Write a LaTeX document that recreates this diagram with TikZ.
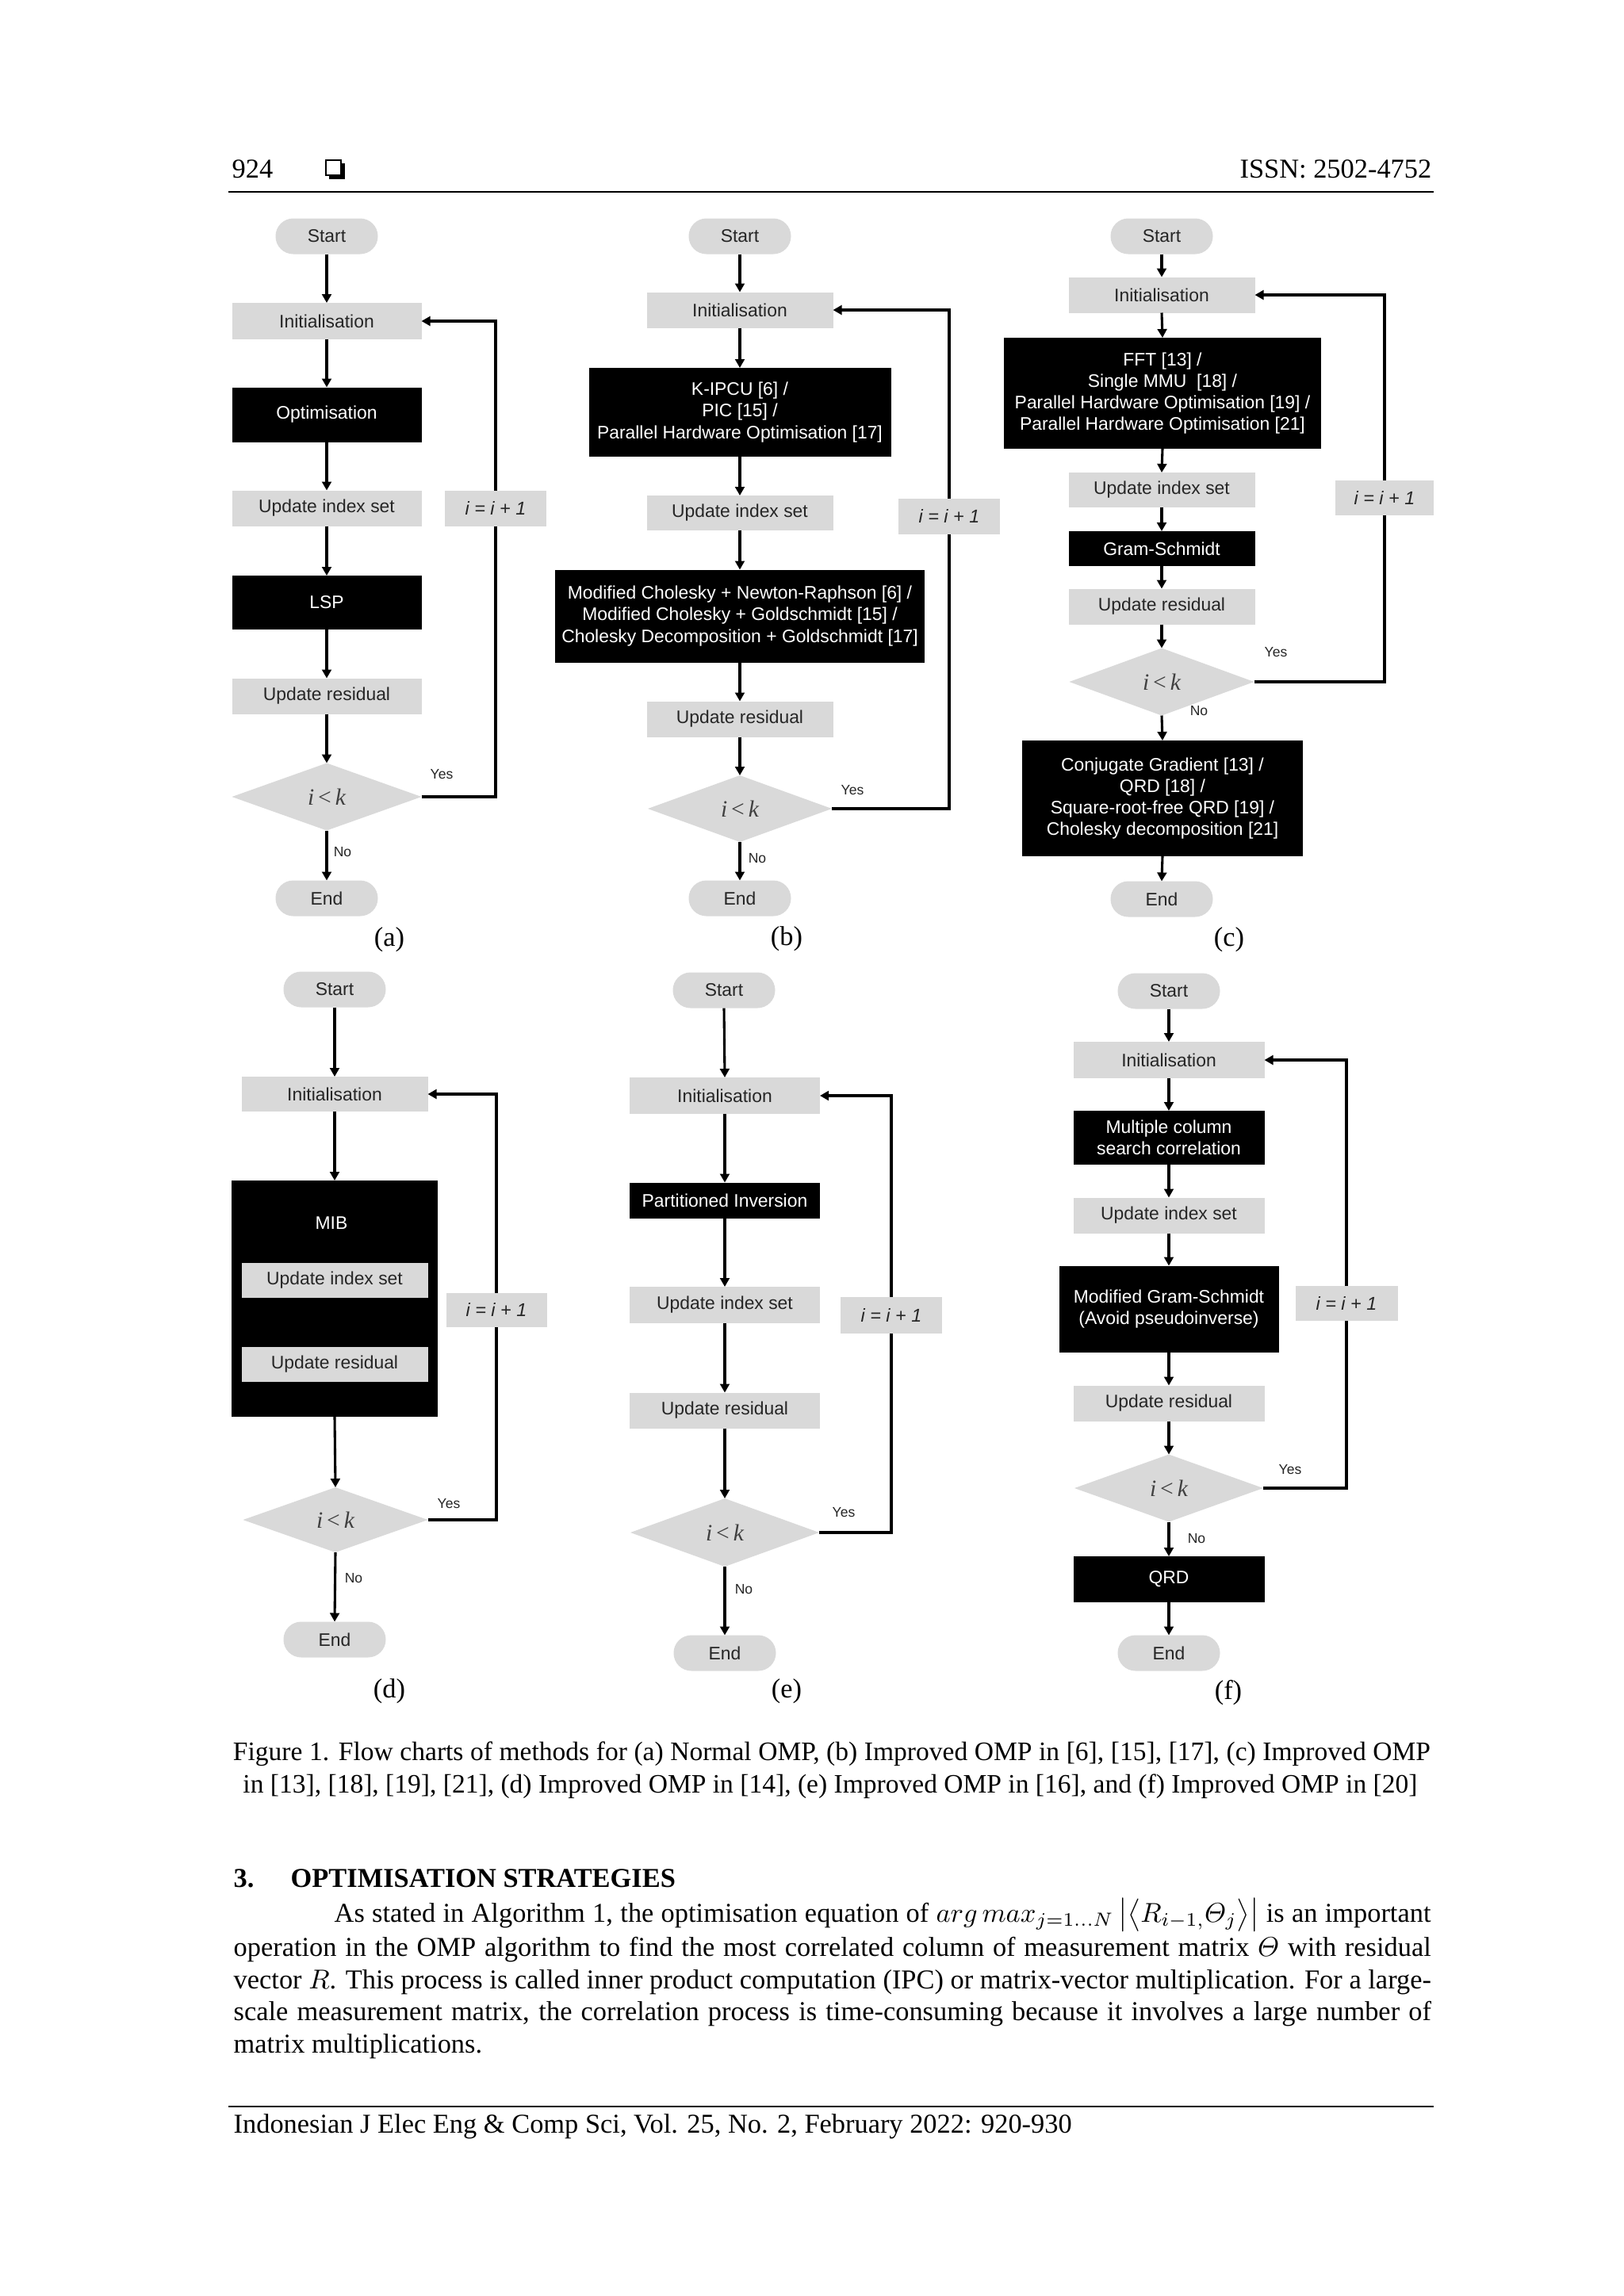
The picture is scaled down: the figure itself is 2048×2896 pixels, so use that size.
\documentclass[tikz,border=0pt]{standalone}
\usepackage{amsmath}
\usepackage{fontspec}
\setmainfont{Liberation Serif}
\newfontfamily\arialf{Liberation Sans}
\usetikzlibrary{arrows.meta,shapes.geometric}
\definecolor{boxgray}{HTML}{D9D9D9}
\definecolor{txtgray}{HTML}{262626}
\definecolor{dgray}{HTML}{404040}
\tikzset{
  sz/.style 2 args={minimum width=#1*0.2907pt, minimum height=#2*0.2907pt},
  basebox/.style={inner sep=0pt, outer sep=0pt, font=\arialf\fontsize{6.65}{7.9}\selectfont, align=center},
  gbox/.style={basebox, rectangle, fill=boxgray, text=txtgray},
  kbox/.style={basebox, rectangle, fill=black, text=white},
  term/.style={basebox, rectangle, rounded corners=6.5pt, fill=boxgray, text=txtgray, sz={129}{45}},
  decis/.style={basebox, diamond, fill=boxgray, text=dgray, font=\fontsize{8.6}{9}\selectfont},
  incbox/.style={gbox, sz={128}{45}, text=txtgray, font=\arialf\fontsize{6.8}{8}\selectfont\itshape},
  yn/.style={font=\arialf\fontsize{5.1}{6}\selectfont, text=txtgray, inner sep=0pt},
  arr/.style={line width=0.9pt, -{Triangle[length=3.2pt,width=3.4pt]}},
  fb/.style={line width=0.9pt},
  txtten/.style={font=\fontsize{10}{12}\selectfont, inner sep=0pt},
  captxt/.style={font=\fontsize{9.75}{12}\selectfont, inner sep=0pt},
}
\newcommand\ilk{{\itshape i}\,<\,{\itshape k}}
\newcommand\iinc{i = i + 1}
\begin{document}
\begin{tikzpicture}[x=0.2907pt, y=-0.2907pt]
\fill[white] (0,0) rectangle (2048,2896);
\useasboundingbox (0,0) rectangle (2048,2896);

% ---------- header ----------
\node[txtten, anchor=base west] (pgno) at (292,224) {924};
\fill[black] (415,206) rectangle (435,226);
\filldraw[fill=white, draw=black, line width=0.6pt] (411,202) rectangle (430,221);
\node[txtten, anchor=base east] (issn) at (1806,224) {ISSN: 2502-4752};
\draw[line width=0.75pt] (288,242) -- (1808,242);

% ---------- (a) ----------
\node[term] (a0) at (412,298) {Start};
\node[gbox, sz={239}{46}] (a1) at (412,405) {Initialisation};
\node[kbox, sz={239}{69}] (a2) at (412,523) {Optimisation};
\node[gbox, sz={239}{45}] (a3) at (412,641) {Update index set};
\node[kbox, sz={239}{68}] (a4) at (412,760) {LSP};
\node[gbox, sz={239}{45}] (a5) at (412,878) {Update residual};
\node[decis, sz={239}{85}] (a6) at (412,1005) {\ilk};
\node[term] (a7) at (412,1133) {End};
\node[incbox] (a8) at (625,641) {\iinc};
\draw[arr] (a0.south) -- (a1.north);
\draw[arr] (a1.south) -- (a2.north);
\draw[arr] (a2.south) -- (a3.north);
\draw[arr] (a3.south) -- (a4.north);
\draw[arr] (a4.south) -- (a5.north);
\draw[arr] (a5.south) -- (a6.north);
\draw[arr] (a6.south) -- (a7.north);
\draw[fb] (a6.east) -| (a8.south);
\draw[arr] (a8.north) |- (a1.east);
\node[yn] (ay) at (557,977) {Yes};
\node[yn] (an) at (432,1075) {No};
\node[txtten] (la) at (491,1185) {(a)};

% ---------- (b) ----------
\node[term] (b0) at (933,298) {Start};
\node[gbox, sz={235}{45}] (b1) at (933,391) {Initialisation};
\node[kbox, sz={381}{112}] (b2) at (933,520) {K-IPCU [6] /\\PIC [15] /\\Parallel Hardware Optimisation [17]};
\node[gbox, sz={235}{44}] (b3) at (933,647) {Update index set};
\node[kbox, sz={466}{117}] (b4) at (933,777) {Modified Cholesky + Newton-Raphson [6] /\\Modified Cholesky + Goldschmidt [15] /\\Cholesky Decomposition + Goldschmidt [17]};
\node[gbox, sz={235}{45}] (b5) at (933,907) {Update residual};
\node[decis, sz={232}{84}] (b6) at (933,1020) {\ilk};
\node[term] (b7) at (933,1133) {End};
\node[incbox] (b8) at (1197,651) {\iinc};
\draw[arr] (b0.south) -- (b1.north);
\draw[arr] (b1.south) -- (b2.north);
\draw[arr] (b2.south) -- (b3.north);
\draw[arr] (b3.south) -- (b4.north);
\draw[arr] (b4.south) -- (b5.north);
\draw[arr] (b5.south) -- (b6.north);
\draw[arr] (b6.south) -- (b7.north);
\draw[fb] (b6.east) -| (b8.south);
\draw[arr] (b8.north) |- (b1.east);
\node[yn] (by) at (1075,997) {Yes};
\node[yn] (bn) at (955,1083) {No};
\node[txtten] (lb) at (992,1184) {(b)};

% ---------- (c) ----------
\node[term] (c0) at (1465,298) {Start};
\node[gbox, sz={235}{45}] (c1) at (1465,372) {Initialisation};
\node[kbox, sz={400}{140}] (c2) at (1466,496) {FFT [13] /\\Single MMU~~[18] /\\Parallel Hardware Optimisation [19] /\\Parallel Hardware Optimisation [21]};
\node[gbox, sz={235}{44}] (c3) at (1465,618) {Update index set};
\node[kbox, sz={235}{44}] (c4) at (1465,692) {Gram-Schmidt};
\node[gbox, sz={235}{45}] (c5) at (1465,765) {Update residual};
\node[decis, sz={233}{85}] (c6) at (1465,860) {\ilk};
\node[kbox, sz={354}{146}] (c7) at (1466,1007) {Conjugate Gradient [13] /\\QRD [18] /\\Square-root-free QRD [19] /\\Cholesky decomposition [21]};
\node[term] (c8) at (1465,1134) {End};
\node[incbox, sz={124}{44}] (c9) at (1746,628) {\iinc};
\draw[arr] (c0.south) -- (c1.north);
\draw[arr] (c1.south) -- (c2.north);
\draw[arr] (c2.south) -- (c3.north);
\draw[arr] (c3.south) -- (c4.north);
\draw[arr] (c4.south) -- (c5.north);
\draw[arr] (c5.south) -- (c6.north);
\draw[arr] (c6.south) -- (c7.north);
\draw[arr] (c7.south) -- (c8.north);
\draw[fb] (c6.east) -| (c9.south);
\draw[arr] (c9.north) |- (c1.east);
\node[yn] (cy) at (1609,823) {Yes};
\node[yn] (cn) at (1512,897) {No};
\node[txtten] (lc) at (1550,1185) {(c)};

% ---------- (d) ----------
\node[term] (d0) at (422,1248) {Start};
\node[gbox, sz={235}{44}] (d1) at (422,1380) {Initialisation};
\node[kbox, sz={260}{298}] (d2) at (422,1638) {};
\node[kbox] (d2t) at (418,1543) {MIB};
\node[gbox, sz={235}{44}] (d3) at (422,1615) {Update index set};
\node[gbox, sz={235}{44}] (d4) at (422,1721) {Update residual};
\node[decis, sz={233}{82}] (d5) at (423,1917) {\ilk};
\node[term] (d6) at (422,2068) {End};
\node[incbox, sz={127}{43}] (d7) at (626,1652) {\iinc};
\draw[arr] (d0.south) -- (d1.north);
\draw[arr] (d1.south) -- (d2.north);
\draw[arr] (d2.south) -- (d5.north);
\draw[arr] (d5.south) -- (d6.north);
\draw[fb] (d5.east) -| (d7.south);
\draw[arr] (d7.north) |- (d1.east);
\node[yn] (dy) at (566,1897) {Yes};
\node[yn] (dn) at (446,1991) {No};
\node[txtten] (ld) at (491,2133) {(d)};

% ---------- (e) ----------
\node[term] (e0) at (913,1249) {Start};
\node[gbox, sz={240}{46}] (e1) at (914,1382) {Initialisation};
\node[kbox, sz={240}{45}] (e2) at (914,1514) {Partitioned Inversion};
\node[gbox, sz={240}{46}] (e3) at (914,1646) {Update index set};
\node[gbox, sz={240}{45}] (e4) at (914,1779) {Update residual};
\node[decis, sz={238}{86}] (e5) at (914,1933) {\ilk};
\node[term] (e6) at (914,2085) {End};
\node[incbox, sz={128}{46}] (e7) at (1124,1659) {\iinc};
\draw[arr] (e0.south) -- (e1.north);
\draw[arr] (e1.south) -- (e2.north);
\draw[arr] (e2.south) -- (e3.north);
\draw[arr] (e3.south) -- (e4.north);
\draw[arr] (e4.south) -- (e5.north);
\draw[arr] (e5.south) -- (e6.north);
\draw[fb] (e5.east) -| (e7.south);
\draw[arr] (e7.north) |- (e1.east);
\node[yn] (ey) at (1064,1908) {Yes};
\node[yn] (en) at (938,2005) {No};
\node[txtten] (le) at (992,2133) {(e)};

% ---------- (f) ----------
\node[term] (f0) at (1474,1250) {Start};
\node[gbox, sz={241}{46}] (f1) at (1474,1337) {Initialisation};
\node[kbox, sz={241}{68}] (f2) at (1474,1435) {Multiple column\\search correlation};
\node[gbox, sz={241}{45}] (f3) at (1474,1533) {Update index set};
\node[kbox, sz={277}{109}] (f4) at (1474,1651) {Modified Gram-Schmidt\\(Avoid pseudoinverse)};
\node[gbox, sz={241}{45}] (f5) at (1474,1770) {Update residual};
\node[decis, sz={238}{85}] (f6) at (1474,1877) {\ilk};
\node[kbox, sz={241}{58}] (f7) at (1474,1992) {QRD};
\node[term] (f8) at (1474,2085) {End};
\node[incbox, sz={129}{44}] (f9) at (1698,1644) {\iinc};
\draw[arr] (f0.south) -- (f1.north);
\draw[arr] (f1.south) -- (f2.north);
\draw[arr] (f2.south) -- (f3.north);
\draw[arr] (f3.south) -- (f4.north);
\draw[arr] (f4.south) -- (f5.north);
\draw[arr] (f5.south) -- (f6.north);
\draw[arr] (f6.south) -- (f7.north);
\draw[arr] (f7.south) -- (f8.north);
\draw[fb] (f6.east) -| (f9.south);
\draw[arr] (f9.north) |- (f1.east);
\node[yn] (fy) at (1627,1854) {Yes};
\node[yn] (fn) at (1509,1941) {No};
\node[txtten] (lf) at (1549,2135) {(f)};

% ---------- caption ----------
\node[captxt] (cap1) at (1049,2212) {\makebox[439pt][s]{Figure 1. Flow charts of methods for (a) Normal OMP, (b) Improved OMP in [6], [15], [17], (c) Improved OMP}};
\node[captxt] (cap2) at (1047,2253) {in [13], [18], [19], [21], (d) Improved OMP in [14], (e) Improved OMP in [16], and (f) Improved OMP in [20]};

% ---------- section ----------
\node[txtten, anchor=base west, font=\fontsize{10}{12}\selectfont\bfseries] (secn) at (294,2380) {3.};
\node[txtten, anchor=base west, font=\fontsize{10}{12}\selectfont\bfseries] (sect) at (366,2380) {OPTIMISATION STRATEGIES};
\node[txtten, anchor=base west] (p1) at (421,2424) {\makebox[402pt][s]{As stated in Algorithm 1, the optimisation equation of $arg\,max_{j=1\ldots N}\,\bigl|\bigl\langle R_{i-1,}\varTheta_j\bigr\rangle\bigr|$ is an important}};
\node[txtten, anchor=base west] (p2) at (294,2467) {\makebox[439pt][s]{operation in the OMP algorithm to find the most correlated column of measurement matrix $\varTheta$ with residual}};
\node[txtten, anchor=base west] (p3) at (294,2508) {\makebox[439pt][s]{vector $R$. This process is called inner product computation (IPC) or matrix-vector multiplication. For a large-}};
\node[txtten, anchor=base west] (p4) at (294,2548) {\makebox[439pt][s]{scale measurement matrix, the correlation process is time-consuming because it involves a large number of}};
\node[txtten, anchor=base west] (p5) at (294,2589) {matrix multiplications.};

% ---------- footer ----------
\draw[line width=0.75pt] (288,2657) -- (1808,2657);
\node[txtten, anchor=base west] (foot) at (294,2690) {Indonesian J Elec Eng \& Comp Sci, Vol. 25, No. 2, February 2022: 920-930};
\end{tikzpicture}
\end{document}
